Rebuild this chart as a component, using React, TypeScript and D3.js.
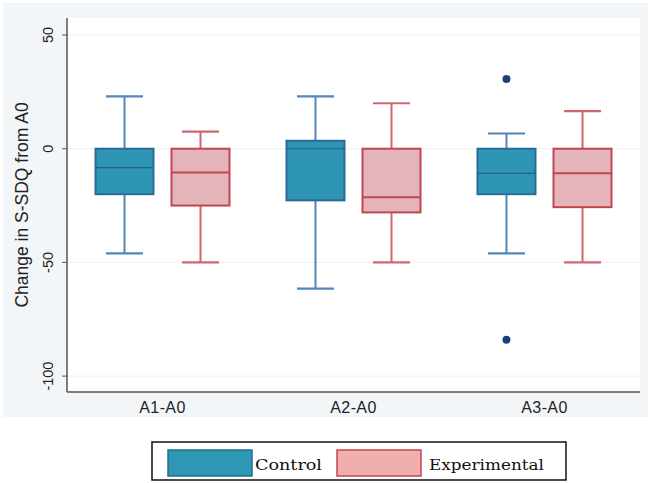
import React from "react";
import * as d3 from "d3";

const categories = ["A1-A0", "A2-A0", "A3-A0"];
const seriesNames = ["Control", "Experimental"];
// [lowerWhisker, q1, median, q3, upperWhisker]
const controlStats = [
  [-46, -20, -8.3, 0, 23],
  [-61.5, -22.7, 0, 3.5, 23],
  [-46, -20, -10.8, 0, 6.7],
];
const experimentalStats = [
  [-50, -25, -10.5, 0, 7.5],
  [-50, -28, -21.3, 0, 20],
  [-50, -25.7, -10.8, 0, 16.5],
];
const controlOutliers = [[], [], [30.7, -84]];
const experimentalOutliers = [[], [], []];
const yTicks = [50, 0, -50, -100];

const W = 657;
const H = 483;

const styles = {
  Control: {
    fill: "#2f95b5",
    stroke: "#2a6b96",
    whisker: "#5486b8",
    median: "#2a5c8c",
    medianW: 1.2,
    legendFill: "#2f97b4",
    legendStroke: "#1f6f8c",
  },
  Experimental: {
    fill: "#e3b5ba",
    stroke: "#c2454f",
    whisker: "#d0666f",
    median: "#c2454f",
    medianW: 2,
    legendFill: "#f0aeae",
    legendStroke: "#c8474e",
  },
};

export default function App() {
  const left = 67;
  const right = 640;
  const top = 18;
  const bottom = 392;

  const y = d3.scaleLinear().domain([-107, 57.5]).range([bottom, top]);
  const x = d3.scaleBand<string>().domain(categories).range([left, right]).padding(0);
  const inner = d3
    .scaleBand<string>()
    .domain(seriesNames)
    .range([0, x.bandwidth()])
    .paddingInner(0.237)
    .paddingOuter(0.375);

  const allStats: Record<string, number[][]> = {
    Control: controlStats,
    Experimental: experimentalStats,
  };
  const allOut: Record<string, number[][]> = {
    Control: controlOutliers,
    Experimental: experimentalOutliers,
  };

  const bw = inner.bandwidth();
  const capW = 37;

  return (
    <svg width={W} height={H} style={{ position: "absolute", left: 0, top: 0 }}>
      <rect x={0} y={0} width={W} height={H} fill="#ffffff" />
      <rect x={3} y={3} width={645} height={414} fill="#f2f6f8" />
      <rect x={left} y={top} width={right - left} height={bottom - top} fill="#ffffff" />
      {yTicks.map((t) => (
        <line
          key={"g" + t}
          x1={left}
          x2={right}
          y1={y(t)}
          y2={y(t)}
          stroke="#eef2ef"
          strokeWidth={1}
        />
      ))}
      {categories.map((c, i) =>
        seriesNames.map((s) => {
          const st = styles[s as keyof typeof styles];
          const [lo, q1, med, q3, hi] = allStats[s][i];
          const x0 = (x(c) ?? 0) + (inner(s) ?? 0);
          const cx = x0 + bw / 2;
          return (
            <g key={c + s}>
              <line x1={cx} x2={cx} y1={y(hi)} y2={y(q3)} stroke={st.whisker} strokeWidth={2} />
              <line x1={cx} x2={cx} y1={y(q1)} y2={y(lo)} stroke={st.whisker} strokeWidth={2} />
              <line
                x1={cx - capW / 2}
                x2={cx + capW / 2}
                y1={y(hi)}
                y2={y(hi)}
                stroke={st.whisker}
                strokeWidth={2.2}
              />
              <line
                x1={cx - capW / 2}
                x2={cx + capW / 2}
                y1={y(lo)}
                y2={y(lo)}
                stroke={st.whisker}
                strokeWidth={2.2}
              />
              <rect
                x={x0}
                y={y(q3)}
                width={bw}
                height={y(q1) - y(q3)}
                fill={st.fill}
                stroke={st.stroke}
                strokeWidth={2}
              />
              <line
                x1={x0}
                x2={x0 + bw}
                y1={y(med)}
                y2={y(med)}
                stroke={st.median}
                strokeWidth={st.medianW}
              />
              {allOut[s][i].map((o, k) => (
                <circle key={k} cx={cx} cy={y(o)} r={4} fill="#1b3f7c" />
              ))}
            </g>
          );
        })
      )}
      {/* axes */}
      <line x1={left} x2={left} y1={top} y2={bottom} stroke="#555" strokeWidth={1.5} />
      <line x1={left} x2={right} y1={bottom} y2={bottom} stroke="#555" strokeWidth={1.5} />
      {yTicks.map((t) => (
        <g key={"t" + t}>
          <line x1={left - 5} x2={left} y1={y(t)} y2={y(t)} stroke="#555" strokeWidth={1} />
          <text
            transform={`translate(${53},${y(t)}) rotate(-90)`}
            textAnchor="middle"
            fontFamily="'Liberation Sans', Arial, sans-serif"
            fontSize={14.5}
            fill="#222"
          >
            {t}
          </text>
        </g>
      ))}
      {categories.map((c) => (
        <text
          key={"x" + c}
          x={(x(c) ?? 0) + x.bandwidth() / 2}
          y={413}
          textAnchor="middle"
          fontFamily="'Liberation Sans', Arial, sans-serif"
          fontSize={16}
          letterSpacing={0.4}
          fill="#222"
        >
          {c}
        </text>
      ))}
      <text
        transform={`translate(28,205) rotate(-90)`}
        textAnchor="middle"
        fontFamily="'Liberation Sans', Arial, sans-serif"
        fontSize={17.5}
        fill="#222"
      >
        Change in S-SDQ from A0
      </text>
      {/* legend */}
      <rect x={152} y={442} width={414} height={38} fill="#ffffff" stroke="#111" strokeWidth={1.5} />
      <rect
        x={168}
        y={450}
        width={84}
        height={26}
        fill={styles.Control.legendFill}
        stroke={styles.Control.legendStroke}
        strokeWidth={1.5}
      />
      <text
        x={255}
        y={470}
        fontFamily="'DejaVu Serif', serif"
        fontSize={15}
        textLength={67}
        lengthAdjust="spacingAndGlyphs"
        fill="#111"
      >
        Control
      </text>
      <rect
        x={337}
        y={450}
        width={84}
        height={26}
        fill={styles.Experimental.legendFill}
        stroke={styles.Experimental.legendStroke}
        strokeWidth={1.5}
      />
      <text
        x={429}
        y={470}
        fontFamily="'DejaVu Serif', serif"
        fontSize={15}
        textLength={115}
        lengthAdjust="spacingAndGlyphs"
        fill="#111"
      >
        Experimental
      </text>
    </svg>
  );
}
